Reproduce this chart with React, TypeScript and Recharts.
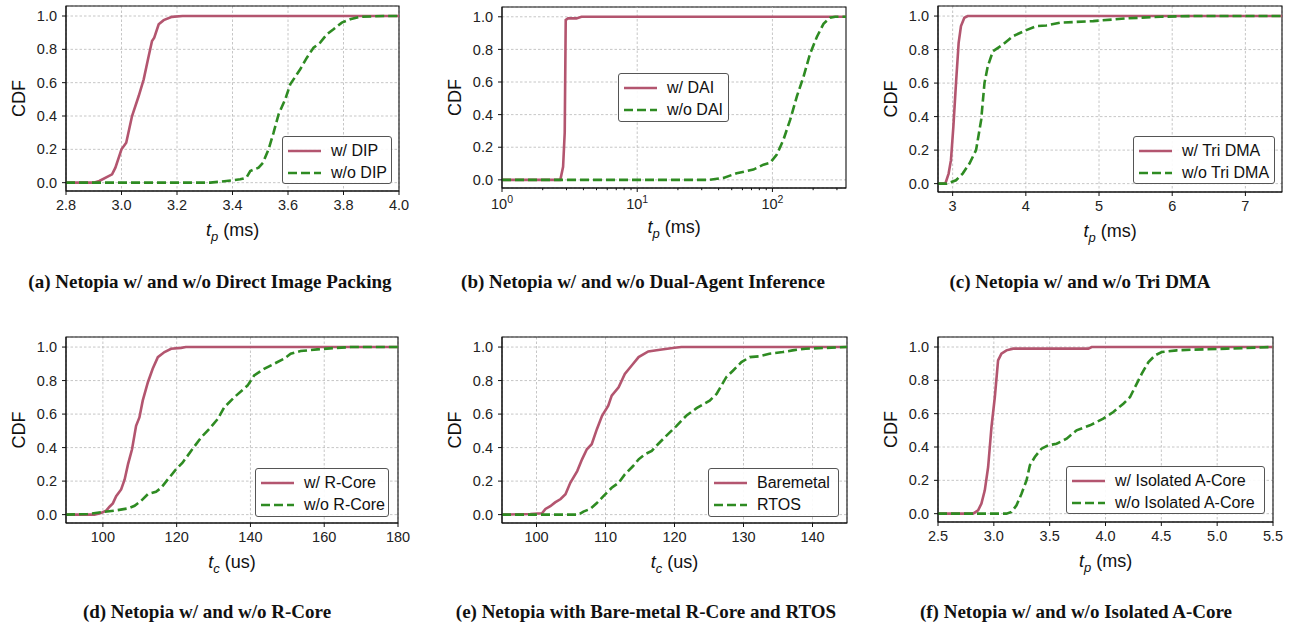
import React from 'react';
import { LineChart, Line, XAxis, YAxis, CartesianGrid, ReferenceArea, ReferenceLine, Legend, Label } from 'recharts';

const RED = '#b3556f';
const GREEN = '#2e8b22';
const SANS = '"Liberation Sans", Arial, Helvetica, sans-serif';
const SERIF = '"Liberation Serif", "Times New Roman", serif';

type Pt = [number, number];

// (a) Direct Image Packing, t_p (ms)
const dipOn: Pt[] = [[2.8,0],[2.9,0],[2.92,0.01],[2.966,0.05],[2.978,0.09],[3.0,0.2],[3.017,0.24],[3.038,0.4],[3.062,0.52],[3.08,0.62],[3.098,0.76],[3.11,0.85],[3.118,0.87],[3.134,0.95],[3.152,0.975],[3.182,0.995],[3.22,1.0],[4.0,1.0]];
const dipOff: Pt[] = [[2.8,0],[3.32,0],[3.40,0.014],[3.428,0.02],[3.45,0.03],[3.464,0.07],[3.494,0.09],[3.51,0.12],[3.53,0.2],[3.548,0.3],[3.566,0.41],[3.59,0.5],[3.608,0.59],[3.644,0.68],[3.668,0.75],[3.692,0.81],[3.716,0.84],[3.74,0.89],[3.764,0.92],[3.794,0.96],[3.824,0.98],[3.86,0.995],[3.944,1.0],[4.0,1.0]];
const aTicks = [2.8, 3.0, 3.2, 3.4, 3.6, 3.8, 4.0];

// (b) Dual-Agent Inference, t_p (ms), log axis
const daiOn: Pt[] = [[1,0],[2.7,0],[2.83,0.08],[2.91,0.29],[2.96,0.98],[3.08,0.99],[3.55,0.99],[3.87,1.0],[350,1.0]];
const daiOff: Pt[] = [[1,0],[34.5,0],[43.4,0.012],[54.4,0.04],[72.3,0.063],[85.8,0.093],[96.1,0.104],[107.7,0.155],[120.6,0.246],[135.2,0.368],[151.4,0.51],[169.7,0.632],[190,0.774],[213,0.876],[238.6,0.957],[267,0.994],[291,1.0],[350,1.0]];
const bMajor = [1, 10, 100];
const bMinor = [2,3,4,5,6,7,8,9,20,30,40,50,60,70,80,90,200,300];

// (c) Tri DMA, t_p (ms)
const triOn: Pt[] = [[2.8,0],[2.9,0],[2.945,0.06],[2.977,0.14],[3.01,0.34],[3.046,0.6],[3.082,0.84],[3.114,0.94],[3.16,0.99],[3.206,1.0],[7.5,1.0]];
const triOff: Pt[] = [[2.8,0],[2.92,0],[3.046,0.02],[3.137,0.06],[3.23,0.12],[3.32,0.2],[3.39,0.38],[3.435,0.6],[3.48,0.7],[3.55,0.79],[3.686,0.83],[3.824,0.88],[4.007,0.916],[4.144,0.94],[4.28,0.944],[4.465,0.96],[4.92,0.97],[5.38,0.986],[5.84,0.996],[6.3,1.0],[7.5,1.0]];
const cTicks = [3, 4, 5, 6, 7];

// (d) R-Core, t_c (us)
const rcoreOn: Pt[] = [[90,0],[97.7,0],[99.5,0.01],[100.9,0.024],[101.8,0.047],[102.7,0.067],[103.6,0.11],[104.95,0.15],[105.9,0.21],[106.8,0.3],[107.9,0.39],[109.0,0.53],[109.9,0.58],[110.8,0.68],[112.2,0.79],[113.5,0.87],[114.9,0.94],[116.7,0.97],[118.5,0.99],[121.2,0.995],[122.5,1.0],[180,1.0]];
const rcoreOff: Pt[] = [[90,0],[95.9,0.004],[99.5,0.014],[103.2,0.024],[106.8,0.037],[108.6,0.053],[110.4,0.083],[112.2,0.122],[114.4,0.136],[115.8,0.16],[117.6,0.21],[119.8,0.27],[121.6,0.31],[123.9,0.38],[126.6,0.46],[128.8,0.51],[131.1,0.57],[132.9,0.64],[135.6,0.70],[139.2,0.77],[141.0,0.83],[143.7,0.87],[146.4,0.90],[149.1,0.93],[150.9,0.96],[153.6,0.976],[158.1,0.986],[162.6,0.994],[167.1,1.0],[180,1.0]];
const dTicks = [100, 120, 140, 160, 180];

// (e) Bare-metal vs RTOS, t_c (us)
const bareOn: Pt[] = [[95,0],[99.1,0.004],[100.8,0.008],[101.3,0.034],[102.0,0.05],[102.7,0.073],[103.5,0.093],[104.2,0.122],[104.9,0.19],[105.9,0.26],[106.6,0.33],[107.3,0.39],[108.0,0.42],[108.75,0.51],[109.5,0.59],[110.4,0.65],[110.9,0.71],[111.9,0.76],[112.8,0.84],[113.8,0.89],[114.8,0.94],[116.2,0.974],[117.9,0.984],[120.0,0.996],[121,1.0],[145,1.0]];
const rtos: Pt[] = [[95,0],[106.1,0],[106.8,0.018],[107.8,0.034],[108.75,0.069],[109.7,0.11],[110.9,0.16],[111.9,0.19],[112.8,0.24],[114.0,0.29],[114.8,0.33],[115.7,0.36],[116.7,0.38],[117.6,0.42],[118.8,0.47],[120.3,0.53],[121.7,0.59],[123.2,0.635],[125.1,0.68],[126.1,0.72],[126.8,0.77],[127.5,0.82],[128.5,0.86],[129.7,0.91],[130.9,0.94],[132.3,0.945],[133.75,0.96],[135.7,0.97],[137.1,0.98],[139.0,0.99],[144.8,1.0],[145,1.0]];
const eTicks = [100, 110, 120, 130, 140];

// (f) Isolated A-Core, t_p (ms)
const isoOn: Pt[] = [[2.5,0],[2.814,0],[2.859,0.02],[2.889,0.06],[2.919,0.14],[2.949,0.28],[2.979,0.52],[3.009,0.70],[3.038,0.92],[3.068,0.96],[3.113,0.98],[3.173,0.99],[3.44,0.99],[3.846,0.99],[3.876,1.0],[5.5,1.0]];
const isoOff: Pt[] = [[2.5,0],[3.113,0],[3.158,0.01],[3.203,0.05],[3.248,0.12],[3.293,0.2],[3.323,0.29],[3.367,0.34],[3.427,0.39],[3.487,0.41],[3.562,0.42],[3.652,0.45],[3.741,0.50],[3.861,0.53],[3.98,0.57],[4.07,0.61],[4.16,0.66],[4.22,0.70],[4.265,0.76],[4.325,0.84],[4.385,0.91],[4.444,0.95],[4.504,0.97],[4.639,0.98],[4.788,0.984],[5.087,0.99],[5.5,1.0]];
const fTicks = [2.5, 3.0, 3.5, 4.0, 4.5, 5.0, 5.5];

const yTicks = [0, 0.2, 0.4, 0.6, 0.8, 1.0];
const Y_DOMAIN: [number, number] = [-0.05, 1.06];

const toObj = (pts: Pt[]) => pts.map(([x, y]) => ({ x, y }));

type Cfg = {
  box: [number, number, number, number];
  domain: [number, number];
  ticks: number[];
  fmt: (v: number) => string;
  sub: string;
  unit: string;
  on: Pt[];
  off: Pt[];
  names: [string, string];
  leg: [number, number, number, number];
  caption: string;
  cap: [number, number];
  log?: boolean;
};

const panels: Cfg[] = [
  { box: [66, 6, 399, 191], domain: [2.8, 4.0], ticks: aTicks, fmt: (v) => v.toFixed(1), sub: 'p', unit: '(ms)', on: dipOn, off: dipOff, names: ['w/ DIP', 'w/o DIP'], leg: [282, 136, 110, 48], caption: '(a) Netopia w/ and w/o Direct Image Packing', cap: [210, 282] },
  { box: [502, 7, 846, 188], domain: [1, 350], ticks: [...bMajor, ...bMinor], fmt: (v) => String(v), sub: 'p', unit: '(ms)', on: daiOn, off: daiOff, names: ['w/ DAI', 'w/o DAI'], leg: [618, 73, 111, 49], caption: '(b) Netopia w/ and w/o Dual-Agent Inference', cap: [643, 282], log: true },
  { box: [938, 6, 1282, 192], domain: [2.8, 7.5], ticks: cTicks, fmt: (v) => String(v), sub: 'p', unit: '(ms)', on: triOn, off: triOff, names: ['w/ Tri DMA', 'w/o Tri DMA'], leg: [1133, 136, 142, 48], caption: '(c) Netopia w/ and w/o Tri DMA', cap: [1080, 282] },
  { box: [66, 337, 398, 523], domain: [90, 180], ticks: dTicks, fmt: (v) => String(v), sub: 'c', unit: '(us)', on: rcoreOn, off: rcoreOff, names: ['w/ R-Core', 'w/o R-Core'], leg: [255, 468, 134, 49], caption: '(d) Netopia w/ and w/o R-Core', cap: [207, 612] },
  { box: [502, 337, 847, 523], domain: [95, 145], ticks: eTicks, fmt: (v) => String(v), sub: 'c', unit: '(us)', on: bareOn, off: rtos, names: ['Baremetal', 'RTOS'], leg: [708, 468, 131, 49], caption: '(e) Netopia with Bare-metal R-Core and RTOS', cap: [646, 612] },
  { box: [938, 337, 1273, 522], domain: [2.5, 5.5], ticks: fTicks, fmt: (v) => v.toFixed(1), sub: 'p', unit: '(ms)', on: isoOn, off: isoOff, names: ['w/ Isolated A-Core', 'w/o Isolated A-Core'], leg: [1066, 466, 199, 48], caption: '(f) Netopia w/ and w/o Isolated A-Core', cap: [1076, 612] },
];

const YW = 70, MT = 6, XH = 56, MR = 18, TS = 4, TM = 5;
const TICK_FS = 14.5;

function LogTick(props: any) {
  const { x, y, payload } = props;
  const v = payload.value;
  const major = bMajor.includes(v);
  const axisY = y - TS - TM;
  const len = major ? TS : 2.2;
  return (
    <g>
      <line x1={x} x2={x} y1={axisY} y2={axisY + len} stroke="#111" strokeWidth={1} />
      {major && (
        <text x={x} y={axisY + TS + TM} dy="0.85em" textAnchor="middle" fontFamily={SANS} fontSize={TICK_FS} fill="#222">
          10<tspan dy={-6} fontSize={10.5}>{Math.round(Math.log10(v))}</tspan>
        </text>
      )}
    </g>
  );
}

function LegendBox({ cfg }: { cfg: Cfg }) {
  const [, , w, h] = cfg.leg;
  return (
    <div style={{ position: 'relative', boxSizing: 'border-box', width: w, height: h, border: '1px solid #555', borderRadius: 3, background: 'rgba(255,255,255,0.9)', fontFamily: SANS, fontSize: 16, color: '#111' }}>
      {cfg.names.map((n, i) => (
        <div key={n} style={{ position: 'absolute', left: 0, top: 13.5 + 22.3 * i - 10, height: 20, display: 'flex', alignItems: 'center', whiteSpace: 'nowrap' }}>
          <svg width={44} height={20} style={{ display: 'block' }}>
            <line x1={5} x2={38} y1={10} y2={10} stroke={i === 0 ? RED : GREEN} strokeWidth={2.6} strokeDasharray={i === 0 ? undefined : '9 4'} />
          </svg>
          <span style={{ marginLeft: 4 }}>{n}</span>
        </div>
      ))}
    </div>
  );
}

function Panel({ cfg }: { cfg: Cfg }) {
  const [x0, y0, x1, y1] = cfg.box;
  const pw = x1 - x0, ph = y1 - y0;
  const left = x0 - YW, top = y0 - MT;
  const W = pw + YW + MR, H = ph + MT + XH;
  const gridStroke = '#b8b8b8';
  return (
    <div style={{ position: 'absolute', left, top }}>
      <LineChart width={W} height={H} margin={{ top: MT, right: MR, bottom: 0, left: 0 }}>
        <CartesianGrid stroke={gridStroke} strokeDasharray="2.5 2" strokeWidth={0.8} vertical={!cfg.log} />
        {cfg.log && [10, 100].map((v) => (
          <ReferenceLine key={v} x={v} stroke={gridStroke} strokeDasharray="2.5 2" strokeWidth={0.8} />
        ))}
        <XAxis
          type="number"
          dataKey="x"
          scale={cfg.log ? 'log' : 'linear'}
          domain={cfg.domain}
          allowDataOverflow
          ticks={cfg.ticks}
          interval={0}
          height={XH}
          tickSize={TS}
          tickMargin={TM}
          tickLine={cfg.log ? false : { stroke: '#111' }}
          axisLine={{ stroke: '#111' }}
          tick={cfg.log ? <LogTick /> : { fontFamily: SANS, fontSize: TICK_FS, fill: '#222' }}
          tickFormatter={cfg.fmt}
        >
          <Label
            content={(p: any) => {
              const vb = p.viewBox;
              return (
                <text x={vb.x + vb.width / 2} y={vb.y + 45} textAnchor="middle" fontFamily={SANS} fontSize={18} fill="#111">
                  <tspan fontStyle="italic">t</tspan>
                  <tspan fontStyle="italic" fontSize={13} dy={5}>{cfg.sub}</tspan>
                  <tspan dy={-5}> {cfg.unit}</tspan>
                </text>
              );
            }}
          />
        </XAxis>
        <YAxis
          type="number"
          domain={Y_DOMAIN}
          allowDataOverflow
          ticks={yTicks}
          interval={0}
          width={YW}
          tickSize={TS}
          tickMargin={TM}
          tickLine={{ stroke: '#111' }}
          axisLine={{ stroke: '#111' }}
          tick={{ fontFamily: SANS, fontSize: TICK_FS, fill: '#222' }}
          tickFormatter={(v: number) => v.toFixed(1)}
        >
          <Label
            content={(p: any) => {
              const vb = p.viewBox;
              const cx = vb.x + vb.width - 47;
              const cy = vb.y + vb.height / 2;
              return (
                <text x={cx} y={cy} transform={`rotate(-90 ${cx} ${cy})`} textAnchor="middle" dominantBaseline="central" fontFamily={SANS} fontSize={18} fill="#111">
                  CDF
                </text>
              );
            }}
          />
        </YAxis>
        <Line data={toObj(cfg.on)} dataKey="y" name={cfg.names[0]} type="linear" stroke={RED} strokeWidth={2.6} dot={false} isAnimationActive={false} />
        <Line data={toObj(cfg.off)} dataKey="y" name={cfg.names[1]} type="linear" stroke={GREEN} strokeWidth={2.6} strokeDasharray="9 4" dot={false} isAnimationActive={false} />
        <ReferenceArea x1={cfg.domain[0]} x2={cfg.domain[1]} y1={Y_DOMAIN[0]} y2={Y_DOMAIN[1]} fill="none" stroke="#111" strokeWidth={1.1} ifOverflow="visible" />
        <Legend
          layout="vertical"
          align="center"
          verticalAlign="middle"
          content={() => <LegendBox cfg={cfg} />}
          wrapperStyle={{ left: cfg.leg[0] - left, top: cfg.leg[1] - top, width: cfg.leg[2], height: cfg.leg[3] }}
        />
      </LineChart>
    </div>
  );
}

export default function App() {
  return (
    <div style={{ position: 'absolute', left: 0, top: 0, width: 1291, height: 623, overflow: 'hidden', background: '#fff', fontFamily: SANS }}>
      {panels.map((cfg, i) => (
        <Panel key={i} cfg={cfg} />
      ))}
      {panels.map((cfg, i) => (
        <div key={'c' + i} style={{ position: 'absolute', left: cfg.cap[0] - 250, top: cfg.cap[1] - 12, width: 500, textAlign: 'center', fontFamily: SERIF, fontWeight: 'bold', fontSize: 19, lineHeight: '24px', color: '#111', whiteSpace: 'nowrap' }}>
          {cfg.caption}
        </div>
      ))}
    </div>
  );
}
